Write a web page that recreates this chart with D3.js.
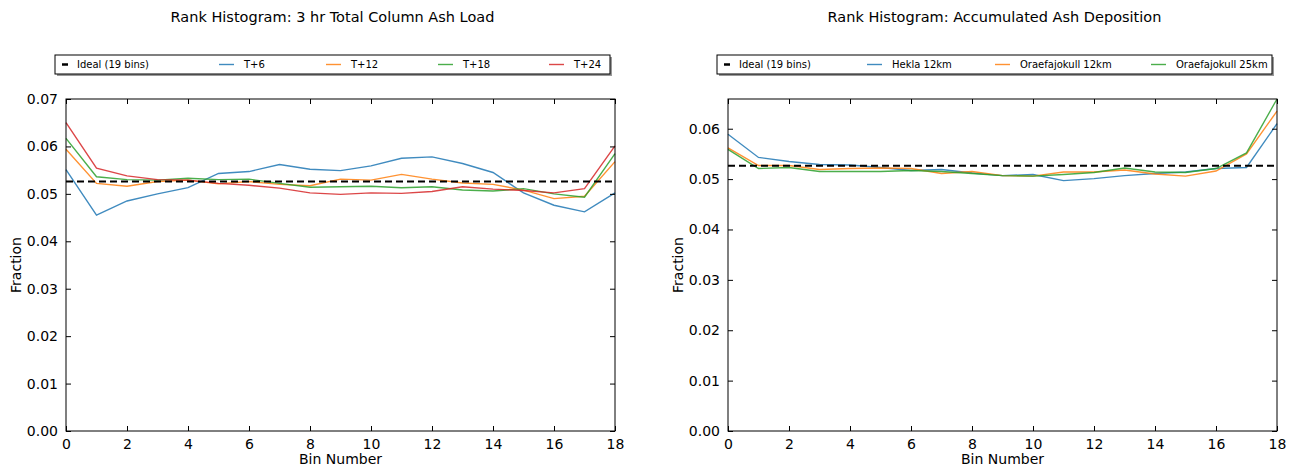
<!DOCTYPE html>
<html>
<head>
<meta charset="utf-8">
<script src="https://cdn.jsdelivr.net/npm/d3@7"></script>
<style>
  html, body { margin: 0; padding: 0; background: #fff; }
  svg { display: block; font-family: "DejaVu Sans", sans-serif; }
</style>
</head>
<body>
<svg id="chart" width="1295" height="470"></svg>
<script>
// ---------- data ----------
const bins = d3.range(0, 19);               // bin numbers 0..18
const ideal = 1 / 19;                        // ideal fraction (19 bins)
const xTicks = [0, 2, 4, 6, 8, 10, 12, 14, 16, 18];

// Left panel: 3 hr Total Column Ash Load
const leftTitle = "Rank Histogram: 3 hr Total Column Ash Load";
const leftNames = ["T+6", "T+12", "T+18", "T+24"];
const t6  = [0.0551, 0.0455, 0.0485, 0.0500, 0.0513, 0.0543, 0.0547, 0.0562, 0.0552, 0.0549, 0.0559, 0.0575, 0.0578, 0.0564, 0.0545, 0.0502, 0.0476, 0.0462, 0.0502];
const t12 = [0.0594, 0.0522, 0.0516, 0.0526, 0.0529, 0.0521, 0.0526, 0.0520, 0.0517, 0.0531, 0.0529, 0.0541, 0.0531, 0.0523, 0.0520, 0.0508, 0.0490, 0.0495, 0.0568];
const t18 = [0.0617, 0.0536, 0.0530, 0.0529, 0.0533, 0.0530, 0.0531, 0.0522, 0.0514, 0.0515, 0.0516, 0.0513, 0.0515, 0.0508, 0.0506, 0.0511, 0.0500, 0.0493, 0.0585];
const t24 = [0.0650, 0.0554, 0.0538, 0.0530, 0.0529, 0.0522, 0.0518, 0.0512, 0.0502, 0.0499, 0.0502, 0.0501, 0.0505, 0.0515, 0.0510, 0.0507, 0.0502, 0.0511, 0.0601];
const leftYTicks = [0, 0.01, 0.02, 0.03, 0.04, 0.05, 0.06, 0.07];

// Right panel: Accumulated Ash Deposition
const rightTitle = "Rank Histogram: Accumulated Ash Deposition";
const rightNames = ["Hekla 12km", "Oraefajokull 12km", "Oraefajokull 25km"];
const hekla12 = [0.0589, 0.0543, 0.0535, 0.0529, 0.0528, 0.0523, 0.0517, 0.0519, 0.0512, 0.0507, 0.0509, 0.0497, 0.0501, 0.0507, 0.0511, 0.0514, 0.0521, 0.0523, 0.0610];
const oraef12 = [0.0562, 0.0527, 0.0527, 0.0519, 0.0521, 0.0522, 0.0521, 0.0511, 0.0515, 0.0507, 0.0506, 0.0514, 0.0514, 0.0518, 0.0510, 0.0506, 0.0516, 0.0550, 0.0635];
const oraef25 = [0.0559, 0.0521, 0.0523, 0.0515, 0.0515, 0.0515, 0.0517, 0.0515, 0.0511, 0.0507, 0.0506, 0.0509, 0.0513, 0.0522, 0.0514, 0.0513, 0.0521, 0.0552, 0.0659];
const rightYTicks = [0, 0.01, 0.02, 0.03, 0.04, 0.05, 0.06];

const idealLabel = "Ideal (19 bins)";
const xLabel = "Bin Number";
const yLabel = "Fraction";

// ---------- styling ----------
const colors = ["#1f77b4", "#ff7f0e", "#2ca02c", "#d62728"];
const svg = d3.select("#chart");

function panel(opts) {
  const { x0, x1, y0, y1, title, names, series, yMax, yTicks, legendCols } = opts;
  const g = svg.append("g");
  const x = d3.scaleLinear().domain([0, 18]).range([x0, x1]);
  const y = d3.scaleLinear().domain([0, yMax]).range([y1, y0]);

  // title
  g.append("text")
    .attr("x", (x0 + x1) / 2 - 8).attr("y", 22)
    .attr("text-anchor", "middle")
    .attr("font-size", 14.5).attr("fill", "#000")
    .text(title);

  // data lines
  const line = d3.line().x((d, i) => x(bins[i])).y(d => y(d));
  series.forEach((s, k) => {
    g.append("path").datum(s)
      .attr("d", line)
      .attr("fill", "none")
      .attr("stroke", colors[k])
      .attr("stroke-opacity", 0.85)
      .attr("stroke-width", 1.4);
  });
  // ideal line
  g.append("line")
    .attr("x1", x(0)).attr("x2", x(18))
    .attr("y1", y(ideal)).attr("y2", y(ideal))
    .attr("stroke", "#000").attr("stroke-width", 2)
    .attr("stroke-dasharray", "7,4");

  // axes (ticks pointing inward on all sides)
  const tl = 5;
  g.append("g").attr("transform", `translate(0,${y1})`)
    .call(d3.axisBottom(x).tickValues(xTicks).tickFormat(d3.format("d")).tickSizeInner(-tl).tickSizeOuter(0).tickPadding(8))
    .call(a => a.select(".domain").remove());
  g.append("g").attr("transform", `translate(0,${y0})`)
    .call(d3.axisTop(x).tickValues(xTicks).tickFormat("").tickSizeInner(-tl).tickSizeOuter(0))
    .call(a => a.select(".domain").remove());
  g.append("g").attr("transform", `translate(${x0},0)`)
    .call(d3.axisLeft(y).tickValues(yTicks).tickFormat(d3.format(".2f")).tickSizeInner(-tl).tickSizeOuter(0).tickPadding(8))
    .call(a => a.select(".domain").remove());
  g.append("g").attr("transform", `translate(${x1},0)`)
    .call(d3.axisRight(y).tickValues(yTicks).tickFormat("").tickSizeInner(-tl).tickSizeOuter(0))
    .call(a => a.select(".domain").remove());
  g.selectAll(".tick text").attr("font-size", 14).attr("fill", "#000").attr("font-family", "DejaVu Sans, sans-serif");
  g.selectAll(".tick line").attr("stroke", "#000");

  // frame
  g.append("rect").attr("x", x0).attr("y", y0).attr("width", x1 - x0).attr("height", y1 - y0)
    .attr("fill", "none").attr("stroke", "#000").attr("stroke-width", 1);

  // axis labels
  g.append("text").attr("x", (x0 + x1) / 2).attr("y", 464)
    .attr("text-anchor", "middle").attr("font-size", 14).text(xLabel);
  g.append("text")
    .attr("transform", `translate(${x0 - 45},${(y0 + y1) / 2}) rotate(-90)`)
    .attr("text-anchor", "middle").attr("font-size", 14).text(yLabel);

  // legend
  const lx = x0 - 11, ly = 55, lw = 555, lh = 19;
  g.append("rect").attr("x", lx + 2).attr("y", ly + 2).attr("width", lw).attr("height", lh).attr("fill", "#999");
  g.append("rect").attr("x", lx).attr("y", ly).attr("width", lw).attr("height", lh)
    .attr("fill", "#fff").attr("stroke", "#000").attr("stroke-width", 1);
  const cy = ly + lh / 2;
  const items = [{ name: idealLabel, color: "#000", ideal: true }]
    .concat(names.map((n, k) => ({ name: n, color: colors[k] })));
  items.forEach((it, k) => {
    const cx = lx + legendCols[k];
    if (it.ideal) {
      g.append("line").attr("x1", cx + 1).attr("x2", cx + 7).attr("y1", cy).attr("y2", cy)
        .attr("stroke", "#000").attr("stroke-width", 2.5);
      g.append("text").attr("x", cx + 16).attr("y", cy + 3.5).attr("font-size", 10).text(it.name);
    } else {
      g.append("line").attr("x1", cx).attr("x2", cx + 15).attr("y1", cy).attr("y2", cy)
        .attr("stroke", it.color).attr("stroke-opacity", 0.85).attr("stroke-width", 1.4);
      g.append("text").attr("x", cx + 25).attr("y", cy + 3.5).attr("font-size", 10).text(it.name);
    }
  });
}

panel({
  x0: 66, x1: 615, y0: 99, y1: 431,
  title: leftTitle, names: leftNames, series: [t6, t12, t18, t24],
  yMax: 0.07, yTicks: leftYTicks,
  legendCols: [6, 164, 271, 383, 494]
});
panel({
  x0: 728, x1: 1277, y0: 99, y1: 431,
  title: rightTitle, names: rightNames, series: [hekla12, oraef12, oraef25],
  yMax: d3.max([hekla12, oraef12, oraef25].flat()), yTicks: rightYTicks,
  legendCols: [6, 150, 278, 434]
});
</script>
</body>
</html>
